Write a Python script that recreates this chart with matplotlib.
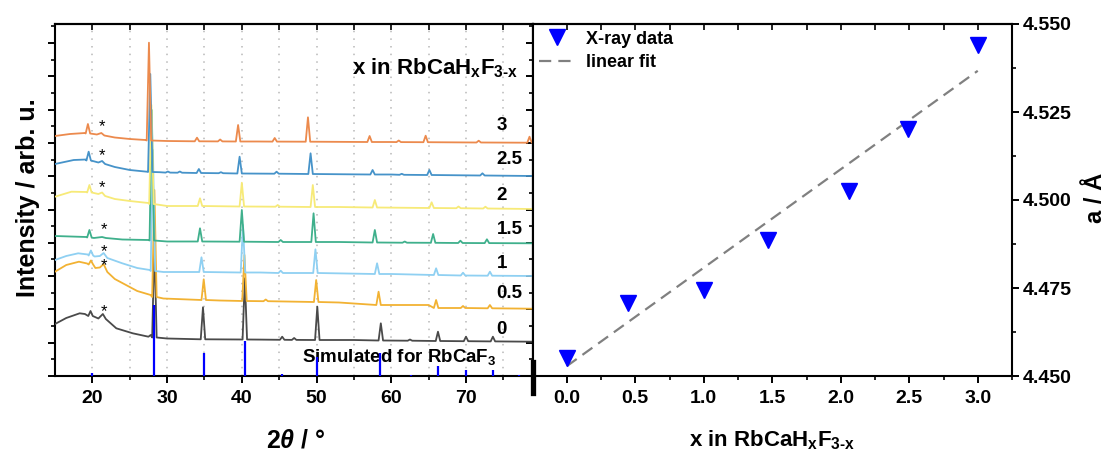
import matplotlib
matplotlib.use("Agg")
import matplotlib.pyplot as plt
from matplotlib.lines import Line2D
from matplotlib.ticker import MultipleLocator, FormatStrFormatter

plt.rcParams["font.family"] = ["Liberation Sans", "DejaVu Sans"]
plt.rcParams["font.weight"] = "bold"
plt.rcParams["mathtext.fontset"] = "custom"
plt.rcParams["mathtext.rm"] = "Liberation Sans:bold"
plt.rcParams["mathtext.it"] = "Liberation Sans:italic:bold"
plt.rcParams["mathtext.bf"] = "Liberation Sans:bold"
plt.rcParams["mathtext.default"] = "rm"

# ---- XRD patterns (2theta, stacked intensity in arb. u.) ----
# background knots (2theta, I) and peaks (2theta, base, top)
bg_0 = [(15, 52), (16.5, 58), (18.3, 62.7), (19.0, 62), (20.8, 57.5), (21.4, 62), (21.8, 57),
        (23.2, 47.7), (25.4, 42.7), (27.5, 39.3), (27.8, 41), (30, 37.5), (42.5, 36.4), (55, 36), (78.9, 34.3)]
pk_0 = [(19.75, 60, 65), (28.3, 38.5, 133), (34.8, 36.7, 68.7), (40.4, 36.5, 97.7), (45.4, 36.2, 39.3),
        (47.0, 36.1, 38), (50.1, 36, 69.3), (58.6, 35.5, 52.7), (62.5, 35.3, 36.5), (66.25, 35, 44.3),
        (70.0, 34.8, 39.3), (73.6, 34.6, 39.3)]

bg_05 = [(15, 104.3), (16.5, 111), (18.2, 114.3), (19.3, 112.5), (20.4, 108), (21.0, 108.5), (21.5, 112),
         (22.0, 104), (23, 97), (24.5, 91), (26, 85), (27.8, 81), (29.5, 77.5), (37, 75.5), (53, 73.5),
         (65, 71), (78.9, 67.3)]
pk_05 = [(19.8, 111.5, 115.5), (28.3, 79, 186), (34.9, 76, 96.7), (40.35, 75, 121), (43.2, 74.8, 76.5),
         (49.95, 74, 96), (58.3, 71, 84.3), (66.0, 68, 76), (69.6, 68, 70), (73.2, 67.7, 71)]

bg_1 = [(15, 116), (16.5, 120), (18.1, 122.7), (19.4, 121.5), (20.3, 119.5), (21.0, 120), (21.5, 123),
        (22.0, 118), (24, 112.7), (26, 108), (27.7, 106), (29.5, 104), (42.5, 103.5), (60, 102), (78.9, 100)]
pk_1 = [(19.8, 120.5, 125.5), (28.1, 105, 226), (34.6, 104, 118.7), (40.15, 103.5, 151), (45.2, 103, 105.3),
        (49.85, 103, 126.7), (58.1, 102, 112.7), (66.0, 101, 107.7), (69.6, 100.5, 103.3), (73.2, 100.3, 104.3)]

bg_15 = [(15, 140), (19.2, 139), (20.2, 138), (21.3, 139), (21.8, 138), (24, 136.5), (27.5, 136),
         (30, 134.5), (53, 134), (78.9, 132.7)]
pk_15 = [(19.6, 138.5, 146), (27.95, 135.5, 266), (34.4, 134.5, 147.7), (40.0, 134.3, 166), (45.2, 134, 136),
         (49.6, 134, 162.7), (57.8, 133.5, 146), (61.8, 133.3, 134.5), (65.6, 133.2, 142),
         (69.25, 133, 135.3), (72.8, 132.9, 136.7)]

bg_2 = [(15, 179.3), (17.2, 184.3), (19.2, 184), (20.8, 182), (21.3, 183.5), (21.7, 180), (23, 177),
        (25, 175), (27.5, 173), (30, 170), (53, 169), (78.9, 167)]
pk_2 = [(19.6, 183.5, 191), (27.9, 172, 271), (34.4, 170, 177.7), (40.0, 169.5, 193.3), (44.8, 169.3, 171),
        (49.5, 169, 191), (57.8, 168.5, 176), (65.4, 168, 173.7), (69.0, 167.8, 169.5), (72.6, 167.5, 169.3)]

bg_25 = [(15, 212), (17.5, 216), (19.15, 216.5), (20.8, 213.5), (21.3, 215), (21.7, 212), (23, 209),
         (25, 206), (27.3, 204.3), (29.0, 203.8), (42, 202.4), (60, 201.5), (78.9, 200)]
pk_25 = [(19.5, 215.5, 224.3), (27.75, 204, 302), (30.1, 203.4, 204.5), (31.7, 203.3, 204.5),
         (34.25, 203, 207), (37.2, 202.8, 203.8), (39.7, 202.5, 219.3), (44.65, 202.3, 204.3),
         (49.2, 202, 222.7), (57.5, 201.5, 206), (61.4, 201.2, 202.2), (65.1, 201, 206), (72.2, 200.5, 202.7)]

bg_3 = [(15, 240), (17, 242), (19.0, 243), (20.6, 241.5), (21.2, 243), (21.6, 240.5), (23, 238.5),
        (25, 237), (27.1, 236), (30, 235), (42, 234.5), (60, 234), (78.9, 233.3)]
pk_3 = [(19.4, 242.5, 252), (27.57, 235.5, 333.3), (34.0, 234.7, 238.3), (37.1, 234.6, 236.5),
        (39.5, 234.5, 251), (44.4, 234.4, 238), (48.85, 234.3, 258.7), (57.1, 234, 240),
        (61.0, 233.9, 235.5), (64.6, 233.8, 240.3), (71.7, 233.5, 235.3), (78.5, 233.3, 239.3)]

x_labels = ["0", "0.5", "1", "1.5", "2", "2.5", "3"]
label_h = [47, 83, 113, 147, 181, 216, 250]
star_t = [21.5, 21.5, 21.5, 21.5, 21.3, 21.3, 21.3]
star_h = [64, 110, 124, 146, 188, 220, 249]

# simulated RbCaF3 reflections
sim_t = [19.9, 28.25, 34.9, 40.4, 45.35, 50.1, 58.5, 62.6, 66.3, 70.0, 73.6, 77.1]
sim_h = [3, 71, 23, 35.3, 2, 19.3, 23, 1.5, 10, 6, 6, 1]

# ---- lattice parameter vs x ----
x_comp = [0.0, 0.45, 1.0, 1.47, 2.06, 2.49, 3.0]
a_latt = [4.4550, 4.4708, 4.4744, 4.4886, 4.5026, 4.5201, 4.5440]
fit_x = [0.0, 3.0]
fit_a = [4.4528, 4.5367]

patterns = [bg_0, bg_05, bg_1, bg_15, bg_2, bg_25, bg_3]
peaks = [pk_0, pk_05, pk_1, pk_15, pk_2, pk_25, pk_3]
colors = ["#4a4a4a", "#f2b233", "#8fd0f2", "#3fb08c", "#f7ea78", "#4693c9", "#ec8a4d"]
HW = 0.3


def trace(bg, pk):
    pts = list(bg)
    for t, base, top in pk:
        pts += [(t - HW, base), (t, top), (t + HW, base)]
    pts.sort(key=lambda p: p[0])
    return [p[0] for p in pts], [p[1] for p in pts]


W, H = 1109, 455
fig = plt.figure(figsize=(W / 100, H / 100), dpi=100)
ax = fig.add_axes([55.4 / W, 79 / H, 477.1 / W, 352 / H])
ax2 = fig.add_axes([532.5 / W, 79 / H, 479.5 / W, 352 / H])

for bg, pk, c in zip(patterns, peaks, colors):
    t, h = trace(bg, pk)
    ax.plot(t, h, color=c, lw=1.3, zorder=3)
ax.vlines(sim_t, 0, sim_h, color="#0000ff", lw=1.6, zorder=4)

for lab, yh in zip(x_labels, label_h):
    ax.text(74.1, yh, lab, ha="left", va="center", fontsize=13.5)
for t, yh in zip(star_t, star_h):
    ax.text(t, yh, "*", ha="center", va="center", fontsize=12, fontweight="normal")
ax.text(77.0, 308, r"x in RbCaH$_{x}$F$_{3\text{-}x}$", ha="right", va="center", fontsize=16)
ax.text(48.0, 19, r"Simulated for RbCaF$_{3}$", ha="left", va="center", fontsize=13.5)

ax.set_xlim(15.05, 78.9)
ax.set_ylim(0, 352)
ax.xaxis.set_major_locator(MultipleLocator(10))
ax.xaxis.set_minor_locator(MultipleLocator(5))
ax.yaxis.set_major_locator(MultipleLocator(33.3))
ax.yaxis.set_minor_locator(MultipleLocator(16.65))
ax.set_yticklabels([])
for g in range(20, 80, 5):
    ax.axvline(g, color="#b8b8b8", lw=1.1, ls=(0, (1, 4)), zorder=1)
ax.tick_params(axis="both", which="major", direction="out", length=5, width=1.4, labelsize=14, pad=5)
ax.tick_params(axis="both", which="minor", direction="out", length=3, width=1.2)
ax.tick_params(axis="y", which="both", labelleft=False)

sx = ax.secondary_xaxis("top")
sx.xaxis.set_major_locator(MultipleLocator(10))
sx.xaxis.set_minor_locator(MultipleLocator(5))
sx.tick_params(axis="x", which="both", direction="in", length=4, width=1.2, labeltop=False)
sy = ax.secondary_yaxis("right")
sy.yaxis.set_major_locator(MultipleLocator(33.3))
sy.yaxis.set_minor_locator(MultipleLocator(16.65))
sy.tick_params(axis="y", which="major", direction="in", length=5, width=1.4, labelright=False)
sy.tick_params(axis="y", which="minor", direction="in", length=3, width=1.2)

# right panel
ax2.plot(fit_x, fit_a, color="#808080", lw=1.6, ls=(0, (5.5, 3.2)), label="linear fit", zorder=2)
ax2.plot(x_comp, a_latt, ls="none", marker="v", ms=11, color="#0000ff", label="X-ray data", zorder=3)
ax2.set_xlim(-0.25, 3.25)
ax2.set_ylim(4.450, 4.550)
ax2.xaxis.set_major_locator(MultipleLocator(0.5))
ax2.xaxis.set_minor_locator(MultipleLocator(0.25))
ax2.xaxis.set_major_formatter(FormatStrFormatter("%.1f"))
ax2.yaxis.tick_right()
ax2.yaxis.set_major_locator(MultipleLocator(0.025))
ax2.yaxis.set_minor_locator(MultipleLocator(0.0125))
ax2.yaxis.set_major_formatter(FormatStrFormatter("%.3f"))
ax2.tick_params(axis="both", which="major", direction="out", length=5, width=1.4, labelsize=14, pad=3)
ax2.tick_params(axis="both", which="minor", direction="out", length=3, width=1.2)
ax2.tick_params(axis="x", pad=5)
ax2.tick_params(axis="y", which="both", left=False)
sx2 = ax2.secondary_xaxis("top")
sx2.xaxis.set_major_locator(MultipleLocator(0.5))
sx2.xaxis.set_minor_locator(MultipleLocator(0.25))
sx2.tick_params(axis="x", which="both", direction="in", length=4, width=1.2, labeltop=False)

h_l, l_l = ax2.get_legend_handles_labels()
ax2.legend(h_l[::-1], l_l[::-1], loc="upper left", bbox_to_anchor=(0, 1), frameon=False, fontsize=13,
           borderaxespad=0, borderpad=0.37, handlelength=2.0, handletextpad=0.6, labelspacing=0.37)

for a in (ax, ax2, sx, sy, sx2):
    for s in a.spines.values():
        s.set_linewidth(1.5)

fig.add_artist(Line2D([532.5 / W] * 2, [(H - 362) / H, (H - 393) / H], lw=3.8, color="k",
                      transform=fig.transFigure))

fig.text(28 / W, 1 - 198 / H, "Intensity / arb. u.", rotation=90, ha="center", va="center", fontsize=18)
fig.text(296 / W, 1 - 440 / H, r"2$\mathit{\theta}$ / °", ha="center", va="center", fontsize=18)
fig.text(772 / W, 1 - 440 / H, r"x in RbCaH$_{x}$F$_{3\text{-}x}$", ha="center", va="center", fontsize=16)
fig.text(1095 / W, 1 - 198 / H, "a / Å", rotation=90, ha="center", va="center", fontsize=17)

fig.savefig("out.png", dpi=100)
